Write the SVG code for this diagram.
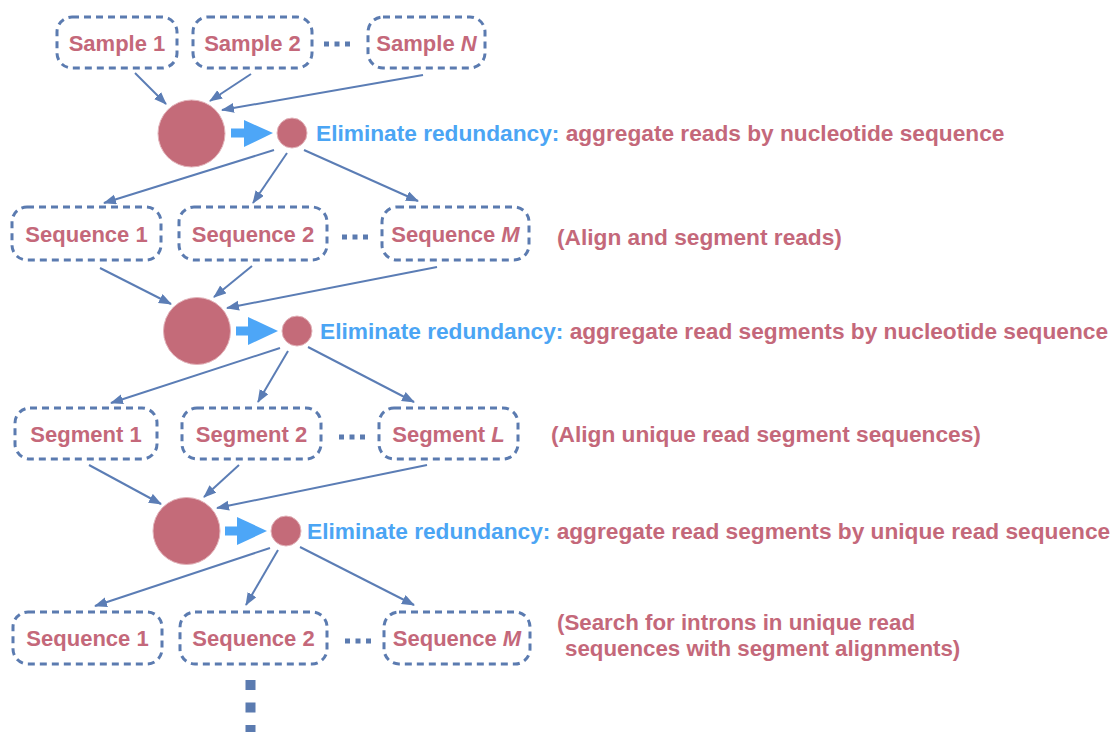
<svg xmlns="http://www.w3.org/2000/svg" width="1117" height="732" viewBox="0 0 1117 732">
<defs>
<style>
.box{fill:none;stroke:#5B7BB0;stroke-width:3;stroke-dasharray:7 5;}
.lbl{font-family:"Liberation Sans",Arial,sans-serif;font-weight:bold;font-size:22px;fill:#C4687A;text-anchor:middle;}
.txt{font-family:"Liberation Sans",Arial,sans-serif;font-weight:bold;font-size:22.7px;fill:#C4687A;}
.txt2{font-family:"Liberation Sans",Arial,sans-serif;font-weight:bold;font-size:22.3px;fill:#C4687A;}
.blue{fill:#4BA5F4;}
.it{font-style:italic;}
.big{fill:#C46B79;stroke:#E2B3BA;stroke-width:1;}
.con{stroke:#5B7DB5;stroke-width:2;fill:none;marker-end:url(#ah);}
.dots{stroke:#5B7BB0;stroke-width:5;stroke-dasharray:5 5.5;}
.barrow{fill:#4DA6F7;}
</style>
<marker id="ah" markerUnits="userSpaceOnUse" markerWidth="14" markerHeight="12" refX="12" refY="5" orient="auto">
<path d="M0,0 L13,5 L0,10 z" fill="#5B7DB5"/>
</marker>
</defs>
<rect width="1117" height="732" fill="#ffffff"/>

<!-- Row 1 -->
<g id="sample1"><rect class="box" x="57" y="17" width="120" height="51" rx="15"/><text class="lbl" x="117" y="51">Sample 1</text></g>
<g id="sample2"><rect class="box" x="193" y="17" width="119" height="51" rx="15"/><text class="lbl" x="252.5" y="51">Sample 2</text></g>
<g id="dots1"><line class="dots" x1="324" y1="44" x2="350" y2="44"/></g>
<g id="sampleN"><rect class="box" x="368" y="17" width="117" height="51" rx="15"/><text class="lbl" x="426.5" y="51">Sample <tspan class="it">N</tspan></text></g>

<g id="agg1">
<circle class="big" cx="191.5" cy="133.5" r="33.5"/>
<rect class="barrow" x="231" y="128.5" width="14" height="9"/>
<path class="barrow" d="M244,120 L273,133 L244,147 z"/>
<circle class="big" cx="292" cy="133" r="15"/>
<text class="txt" x="316" y="141"><tspan class="blue">Eliminate redundancy:</tspan> aggregate reads by nucleotide sequence</text>
</g>

<!-- Row 2 -->
<g id="seq1a"><rect class="box" x="12" y="207" width="149" height="53" rx="15"/><text class="lbl" x="86.5" y="242">Sequence 1</text></g>
<g id="seq2a"><rect class="box" x="179" y="207" width="148" height="53" rx="15"/><text class="lbl" x="253" y="242">Sequence 2</text></g>
<g id="dots2"><line class="dots" x1="342" y1="237" x2="368" y2="237"/></g>
<g id="seqMa"><rect class="box" x="382" y="207" width="147" height="53" rx="15"/><text class="lbl" x="455.5" y="242">Sequence <tspan class="it">M</tspan></text></g>
<text class="txt" x="557" y="245">(Align and segment reads)</text>

<g id="agg2">
<circle class="big" cx="197" cy="331" r="33.5"/>
<rect class="barrow" x="236" y="326.5" width="13" height="9"/>
<path class="barrow" d="M248,317 L278,331 L248,345 z"/>
<circle class="big" cx="297" cy="331" r="15"/>
<text class="txt" x="320" y="339"><tspan class="blue">Eliminate redundancy:</tspan> aggregate read segments by nucleotide sequence</text>
</g>

<!-- Row 3 -->
<g id="seg1"><rect class="box" x="15" y="408" width="142" height="51" rx="15"/><text class="lbl" x="86" y="442">Segment 1</text></g>
<g id="seg2"><rect class="box" x="182" y="408" width="139" height="51" rx="15"/><text class="lbl" x="251.5" y="442">Segment 2</text></g>
<g id="dots3"><line class="dots" x1="339" y1="437" x2="365" y2="437"/></g>
<g id="segL"><rect class="box" x="379" y="408" width="139" height="51" rx="15"/><text class="lbl" x="448.5" y="442">Segment <tspan class="it">L</tspan></text></g>
<text class="txt" x="551" y="442">(Align unique read segment sequences)</text>

<g id="agg3">
<circle class="big" cx="186.5" cy="531" r="33.5"/>
<rect class="barrow" x="225" y="526.5" width="13" height="9"/>
<path class="barrow" d="M237,517 L267,531 L237,545 z"/>
<circle class="big" cx="286" cy="531" r="15"/>
<text class="txt" x="307" y="539"><tspan class="blue">Eliminate redundancy:</tspan> aggregate read segments by unique read sequence</text>
</g>

<!-- Row 4 -->
<g id="seq1b"><rect class="box" x="13" y="612" width="149" height="52" rx="15"/><text class="lbl" x="87.5" y="646">Sequence 1</text></g>
<g id="seq2b"><rect class="box" x="180" y="612" width="147" height="52" rx="15"/><text class="lbl" x="253.5" y="646">Sequence 2</text></g>
<g id="dots4"><line class="dots" x1="345" y1="641" x2="371" y2="641"/></g>
<g id="seqMb"><rect class="box" x="384" y="612" width="146" height="52" rx="15"/><text class="lbl" x="457" y="646">Sequence <tspan class="it">M</tspan></text></g>
<text class="txt2" x="557" y="630">(Search for introns in unique read</text>
<text class="txt2" x="565" y="655.5">sequences with segment alignments)</text>

<g id="vdots"><line x1="250.5" y1="680" x2="250.5" y2="740" stroke="#5B7BB0" stroke-width="10" stroke-dasharray="10 12.5"/></g>

<!-- Connectors -->
<g id="connectors">
<line class="con" x1="135" y1="73" x2="166" y2="104"/>
<line class="con" x1="251" y1="74" x2="210" y2="101"/>
<line class="con" x1="423" y1="75" x2="222" y2="110"/>
<line class="con" x1="274" y1="150" x2="104" y2="203"/>
<line class="con" x1="287" y1="153" x2="253" y2="203"/>
<line class="con" x1="304" y1="150" x2="418" y2="201"/>

<line class="con" x1="100" y1="268" x2="171" y2="304"/>
<line class="con" x1="252" y1="266" x2="214" y2="297"/>
<line class="con" x1="437" y1="267" x2="227" y2="308"/>
<line class="con" x1="280" y1="348" x2="111" y2="403"/>
<line class="con" x1="288" y1="351" x2="258" y2="402"/>
<line class="con" x1="308" y1="347" x2="414" y2="402"/>

<line class="con" x1="89" y1="465" x2="161" y2="504"/>
<line class="con" x1="239" y1="465" x2="204" y2="497"/>
<line class="con" x1="427" y1="465" x2="217" y2="508"/>
<line class="con" x1="270" y1="548" x2="95" y2="606"/>
<line class="con" x1="278" y1="550" x2="246" y2="605"/>
<line class="con" x1="300" y1="547" x2="414" y2="605"/>
</g>
</svg>
